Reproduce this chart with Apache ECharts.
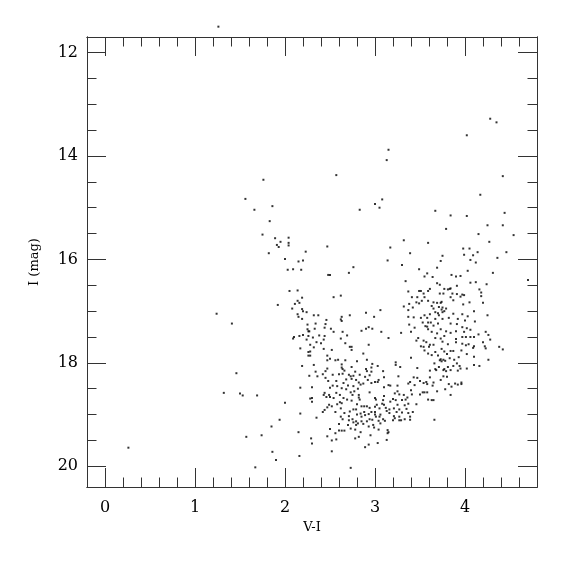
<!DOCTYPE html>
<html>
<head>
<meta charset="utf-8">
<script src="https://cdn.jsdelivr.net/npm/echarts@6/dist/echarts.min.js"></script>
<style>html,body{margin:0;padding:0;background:#fff}#c{width:575px;height:575px}</style>
</head>
<body>
<div id="c"></div>
<script>
// ---- DATA: [V-I, I(mag)] ----
const xTickLabels = [0, 1, 2, 3, 4];
const yTickLabels = [12, 14, 16, 18, 20];

const starsBright = [
  [1.26,11.50],[4.28,13.28],[4.35,13.35],[4.02,13.60],[0.26,19.64]
];
const starsBlueUpper = [
  [1.76,14.46],[1.56,14.83],[1.86,14.97],[1.66,15.04],[1.83,15.26],[1.75,15.52],[1.89,15.59],
  [2.04,15.58],[1.95,15.66],[2.04,15.68],[1.91,15.72],[1.93,15.76],[2.04,15.73]
];
const starsMidUpper = [
  [3.15,13.88],[3.13,14.08],[2.57,14.37],[3.08,14.84],[3.00,14.93],[3.05,15.00],[2.83,15.04],
  [3.32,15.63],[3.59,15.68],[2.47,15.75],[3.17,15.77]
];
const starsRedUpper = [
  [4.42,14.39],[4.17,14.75],[3.67,15.06],[3.84,15.15],[4.02,15.16],[4.44,15.10],[3.79,15.41],
  [4.25,15.34],[4.42,15.34],[4.15,15.51],[4.54,15.53],[4.27,15.66],[3.98,15.79],[4.05,15.79]
];
const starsBlueMid = [
  [2.23,15.85],[1.82,15.88],[2.00,15.99],[2.15,16.04],[2.20,16.02],[2.03,16.20],[2.09,16.19],
  [2.18,16.20],[2.05,16.61],[2.14,16.60],[2.19,16.74],[2.14,16.80],[2.16,16.84],[2.11,16.86],
  [1.92,16.88],[2.08,16.95],[2.19,16.96],[2.20,17.00],[2.24,17.02],[1.24,17.05],[2.14,17.06],
  [2.15,17.11],[2.19,17.15],[1.41,17.24],[2.25,17.26],[2.25,17.35],[2.26,17.39],[2.20,17.46],
  [2.16,17.48],[2.10,17.50],[2.09,17.53],[2.26,17.48],[2.24,17.55],[2.17,17.72],[2.26,17.79],
  [2.26,17.86],[2.19,18.06]
];
const starsMidMid = [
  [3.39,15.88],[3.14,16.02],[3.30,16.11],[2.76,16.15],[3.49,16.19],[3.58,16.27],[2.71,16.26],
  [2.48,16.30],[2.50,16.30],[3.55,16.33],[3.34,16.42],[3.37,16.62],[3.49,16.61],[3.51,16.61],
  [3.54,16.66],[3.59,16.61],[2.62,16.70],[2.54,16.73],[3.41,16.73],[3.47,16.73],[3.55,16.73],
  [3.52,16.80],[3.59,16.80],[3.46,16.83],[3.38,16.86],[3.42,16.93],[3.32,16.91],[3.49,16.85],
  [3.06,16.98],[3.37,16.98],[2.90,17.03],[2.32,17.08],[2.37,17.08],[2.72,17.08],[2.63,17.11],
  [2.99,17.11],[3.37,17.11],[3.43,17.12],[3.51,17.13],[3.55,17.08],[3.58,17.13],[2.46,17.17],
  [2.62,17.16],[2.63,17.19],[2.34,17.24],[2.45,17.25],[3.38,17.26],[3.53,17.22],[3.59,17.22],
  [3.56,17.29],[2.93,17.31],[2.97,17.34],[2.90,17.34],[2.44,17.32],[2.51,17.34],[2.33,17.34],
  [3.44,17.32],[3.58,17.30],[3.59,17.35],[2.85,17.38],[2.64,17.40],[2.54,17.40],[3.07,17.40],
  [3.29,17.42],[3.40,17.40],[2.27,17.39],[2.69,17.47],[2.44,17.48],[2.38,17.47],[2.31,17.51],
  [2.62,17.53],[3.15,17.52],[3.48,17.52],[3.46,17.57],[2.43,17.55],[2.35,17.60],[2.40,17.62],
  [2.67,17.62],[2.93,17.65],[3.54,17.57],[3.57,17.60],[2.28,17.65],[3.51,17.68],[3.54,17.69],
  [2.72,17.69],[2.74,17.69],[2.32,17.70],[2.43,17.73],[2.52,17.75],[2.74,17.75],[3.55,17.76],
  [3.60,17.69],[2.87,17.82],[3.59,17.82],[2.28,17.78],[2.28,17.86],[2.47,17.86],[2.50,17.92],
  [2.56,17.95],[2.59,17.94],[2.47,17.95],[2.67,17.95],[2.80,17.97],[2.91,17.94],[3.40,17.90],
  [3.23,17.99],[2.97,18.02],[2.32,18.04],[2.63,18.03],[2.63,18.09],[2.74,18.08],[2.47,18.11],
  [2.64,18.12],[2.96,18.09],[2.90,18.12],[3.03,18.06],[3.23,18.04],[3.28,18.08],[3.47,18.10]
];
const starsRedMid = [
  [3.75,15.93],[3.99,15.91],[4.09,15.92],[4.14,15.86],[4.46,15.86],[4.36,15.97],[4.06,16.01],
  [3.73,16.03],[4.12,16.06],[3.69,16.16],[4.03,16.22],[4.31,16.26],[3.85,16.30],[3.90,16.33],
  [3.95,16.32],[3.64,16.34],[4.70,16.40],[3.69,16.46],[3.72,16.49],[4.06,16.45],[4.12,16.44],
  [4.24,16.48],[3.91,16.51],[3.77,16.57],[3.81,16.58],[3.83,16.57],[3.84,16.56],[3.61,16.57],
  [4.16,16.58],[4.18,16.64],[3.72,16.66],[3.76,16.66],[3.86,16.66],[3.91,16.67],[3.97,16.68],
  [3.99,16.69],[4.18,16.71],[3.84,16.73],[3.95,16.72],[3.87,16.79],[3.65,16.83],[3.69,16.84],
  [3.73,16.84],[3.74,16.82],[4.05,16.83],[3.98,16.87],[4.20,16.84],[3.63,16.90],[3.71,16.92],
  [3.75,16.93],[3.65,16.95],[3.74,16.97],[3.79,16.95],[3.77,17.00],[3.67,17.02],[3.70,17.04],
  [3.75,17.02],[4.10,17.00],[3.87,17.05],[3.97,17.06],[4.25,17.08],[3.61,17.06],[3.71,17.08],
  [4.03,17.10],[3.67,17.15],[3.75,17.15],[3.82,17.13],[3.92,17.15],[4.00,17.18],[4.11,17.20],
  [3.62,17.22],[3.70,17.24],[3.84,17.24],[3.65,17.28],[3.91,17.25],[3.97,17.31],[4.02,17.33],
  [4.06,17.36],[3.73,17.35],[3.63,17.40],[3.69,17.43],[3.79,17.39],[3.84,17.42],[3.90,17.39],
  [3.99,17.40],[4.23,17.40],[4.15,17.45],[4.26,17.46],[3.77,17.48],[3.97,17.50],[4.01,17.50],
  [4.06,17.50],[4.10,17.50],[3.67,17.52],[3.73,17.53],[3.90,17.54],[3.90,17.60],[4.28,17.55],
  [3.75,17.59],[4.20,17.60],[3.81,17.64],[3.97,17.63],[3.65,17.65],[3.61,17.65],[4.04,17.64],
  [4.01,17.66],[4.10,17.68],[4.22,17.68],[4.38,17.69],[3.74,17.73],[4.09,17.71],[4.23,17.72],
  [4.42,17.74],[3.77,17.78],[3.84,17.77],[3.87,17.77],[3.96,17.76],[3.67,17.79],[3.80,17.83],
  [4.02,17.83],[3.63,17.85],[3.70,17.86],[3.93,17.89],[4.10,17.88],[3.83,17.91],[3.73,17.93],
  [3.76,17.94],[3.72,17.95],[3.74,17.97],[3.78,17.96],[3.88,17.94],[4.26,17.94],[3.66,18.01],
  [3.91,18.01],[4.10,18.04],[4.16,18.06],[3.87,18.06],[3.94,18.06],[3.71,18.08],[3.81,18.08],
  [3.95,18.11],[4.02,18.11],[3.77,18.12],[3.67,18.12]
];
const starsRedLower = [
  [3.61,18.15],[3.68,18.14],[3.76,18.14],[3.79,18.16],[3.84,18.14],[3.92,18.15],[3.80,18.27],
  [3.76,18.26],[3.61,18.28],[3.73,18.33],[3.65,18.38],[3.82,18.41],[3.85,18.46],[3.89,18.40],
  [3.92,18.42],[3.96,18.38],[3.96,18.41],[3.64,18.44],[3.78,18.51],[3.69,18.55],[3.84,18.62],
  [3.63,18.72],[3.65,18.72],[3.66,19.10]
];
const starsMidLower = [
  [2.34,18.17],[2.45,18.16],[2.66,18.15],[2.78,18.17],[2.91,18.16],[2.96,18.17],[3.09,18.16],
  [2.42,18.22],[2.53,18.23],[2.60,18.22],[2.64,18.21],[2.71,18.23],[2.73,18.26],[2.76,18.25],
  [2.83,18.23],[2.89,18.27],[2.94,18.24],[3.10,18.28],[3.26,18.26],[3.43,18.28],[3.47,18.29],
  [2.36,18.26],[2.45,18.29],[2.27,18.25],[2.68,18.32],[2.74,18.31],[2.79,18.33],[2.82,18.38],
  [2.92,18.33],[3.04,18.33],[2.48,18.35],[2.57,18.35],[2.65,18.39],[2.96,18.39],[3.00,18.37],
  [3.03,18.37],[3.39,18.37],[3.37,18.40],[3.50,18.35],[3.54,18.39],[3.57,18.37],[3.58,18.41],
  [3.15,18.43],[3.17,18.44],[3.25,18.44],[3.44,18.43],[2.53,18.44],[2.58,18.45],[2.70,18.44],
  [2.76,18.45],[2.84,18.42],[2.87,18.40],[2.30,18.47],[2.50,18.48],[2.63,18.49],[2.68,18.51],
  [2.81,18.50],[3.10,18.47],[3.25,18.55],[3.40,18.53],[3.55,18.57],[3.53,18.57],[3.58,18.57],
  [2.44,18.58],[2.57,18.58],[2.73,18.57],[2.77,18.55],[2.94,18.57],[3.22,18.59],[3.27,18.61],
  [3.50,18.61],[2.43,18.62],[2.49,18.62],[2.61,18.62],[2.75,18.62],[2.82,18.62],[3.32,18.62],
  [3.41,18.61],[2.46,18.66],[2.50,18.66],[2.65,18.68],[2.82,18.67],[3.10,18.64],[3.36,18.67],
  [2.30,18.68],[2.54,18.68],[2.69,18.71],[2.83,18.71],[3.00,18.68],[3.01,18.71],[3.20,18.70],
  [3.23,18.72],[3.30,18.72],[3.34,18.71],[3.59,18.71],[2.30,18.75],[2.61,18.76],[2.63,18.78],
  [2.74,18.73],[3.09,18.72],[3.17,18.75],[2.58,18.80],[2.49,18.81],[2.80,18.80],[2.85,18.84],
  [2.88,18.84],[2.91,18.84],[3.00,18.85],[3.02,18.81],[3.08,18.79],[3.10,18.81],[3.25,18.81],
  [3.33,18.82],[3.37,18.79],[3.46,18.80],[2.52,18.84],[2.47,18.86],[2.62,18.88],[2.76,18.90],
  [2.79,18.90],[2.94,18.87],[3.05,18.88],[3.12,18.87],[3.16,18.90],[3.21,18.88],[3.27,18.90],
  [3.35,18.89],[2.44,18.91],[2.42,18.95],[2.56,18.95],[2.66,18.97],[2.72,18.94],[2.88,18.95],
  [2.84,18.98],[2.96,18.95],[3.00,18.95],[3.13,18.93],[3.16,18.97],[3.24,18.95],[3.30,18.96],
  [3.37,18.97],[3.42,18.95],[2.80,19.00],[2.89,19.01],[2.93,18.99],[3.00,19.00],[3.06,19.00],
  [2.62,19.04],[2.71,19.03],[2.85,19.04],[3.01,19.04],[3.05,19.04],[3.21,19.03],[3.27,19.04],
  [3.39,19.04],[2.35,19.06],[3.22,19.07],[2.64,19.09],[2.75,19.09],[2.94,19.09],[2.97,19.10],
  [3.09,19.09],[3.20,19.11],[3.27,19.11],[3.29,19.11],[3.33,19.09],[3.39,19.10],[2.71,19.11],
  [2.79,19.13],[2.85,19.13],[2.91,19.13],[3.04,19.12],[3.11,19.12],[2.76,19.15],[2.81,19.17],
  [2.87,19.18],[3.06,19.17],[2.79,19.20],[2.98,19.20],[2.70,19.20],[2.60,19.18],[2.93,19.23],
  [2.63,19.31],[2.60,19.31],[2.66,19.31],[2.73,19.27],[2.78,19.29],[2.99,19.25],[3.04,19.29],
  [3.14,19.30],[2.50,19.28],[2.56,19.36],[2.84,19.34],[3.14,19.36],[3.15,19.34],[2.47,19.42],
  [2.78,19.46],[2.82,19.43],[2.95,19.40],[3.13,19.49],[2.52,19.50],[2.57,19.48],[3.03,19.55],
  [2.93,19.58],[2.89,19.63],[2.29,19.46],[2.30,19.56],[2.52,19.71],[2.73,20.03],[2.28,18.69]
];
const starsBlueLower = [
  [1.46,18.20],[1.32,18.58],[1.50,18.59],[1.53,18.63],[1.69,18.63],[2.17,18.48],[2.00,18.77],
  [2.17,18.98],[1.94,19.10],[1.85,19.23],[2.15,19.34],[1.57,19.43],[1.74,19.40],[1.86,19.72],
  [2.16,19.80],[1.90,19.88],[1.67,20.02]
];

const allStars = [].concat(starsBright, starsBlueUpper, starsMidUpper, starsRedUpper,
  starsBlueMid, starsMidMid, starsRedMid, starsRedLower, starsMidLower, starsBlueLower);

// ---- axis tick positions ----
const xMin = -0.2, xMax = 4.8, yMin = 11.7, yMax = 20.4;
const xMinor = []; for (let i = -1; i <= 24; i++) xMinor.push(+(i * 0.2).toFixed(2));
const yMinor = []; for (let i = 24; i <= 40; i++) yMinor.push(i * 0.5);

const ink = '#333';
const font = 'DejaVu Serif';

function xAx(pos, ticks, len, labels, name) {
  return {
    type: 'value', position: pos, min: xMin, max: xMax,
    axisLine: { show: true, onZero: false, lineStyle: { color: ink, width: 1 } },
    axisTick: { show: true, inside: true, length: len, customValues: ticks, lineStyle: { color: ink, width: 1 } },
    axisLabel: labels ? { show: true, customValues: labels, margin: 13, color: '#000', fontFamily: font, fontSize: 16 } : { show: false },
    splitLine: { show: false },
    name: name || '', nameLocation: 'middle', nameGap: 29,
    nameTextStyle: { fontFamily: font, fontSize: 13, color: '#000' }
  };
}
function yAx(pos, ticks, len, labels, name) {
  return {
    type: 'value', position: pos, min: yMin, max: yMax, inverse: true,
    axisLine: { show: true, onZero: false, lineStyle: { color: ink, width: 1 } },
    axisTick: { show: true, inside: true, length: len, customValues: ticks, lineStyle: { color: ink, width: 1 } },
    axisLabel: labels ? { show: true, customValues: labels, margin: 9, color: '#000', fontFamily: font, fontSize: 16 } : { show: false },
    splitLine: { show: false },
    name: name || '', nameLocation: 'middle', nameGap: 46, nameRotate: 90,
    nameTextStyle: { fontFamily: font, fontSize: 13, color: '#000' }
  };
}

const chart = echarts.init(document.getElementById('c'), null, { renderer: 'canvas' });
chart.setOption({
  animation: false,
  backgroundColor: '#fff',
  grid: { left: 87, right: 38, top: 37, bottom: 88, containLabel: false },
  xAxis: [
    xAx('bottom', xTickLabels, 19, xTickLabels, 'V-I'),
    xAx('bottom', xMinor, 9.5, null),
    xAx('top', xTickLabels, 19, null),
    xAx('top', xMinor, 9.5, null)
  ],
  yAxis: [
    yAx('left', yTickLabels, 19, yTickLabels, 'I (mag)'),
    yAx('left', yMinor, 9.5, null),
    yAx('right', yTickLabels, 19, null),
    yAx('right', yMinor, 9.5, null)
  ],
  series: [{
    type: 'scatter', xAxisIndex: 0, yAxisIndex: 0,
    data: allStars, symbol: 'rect', symbolSize: 2,
    itemStyle: { color: '#000' }, clip: false, silent: true
  }]
});
</script>
</body>
</html>
